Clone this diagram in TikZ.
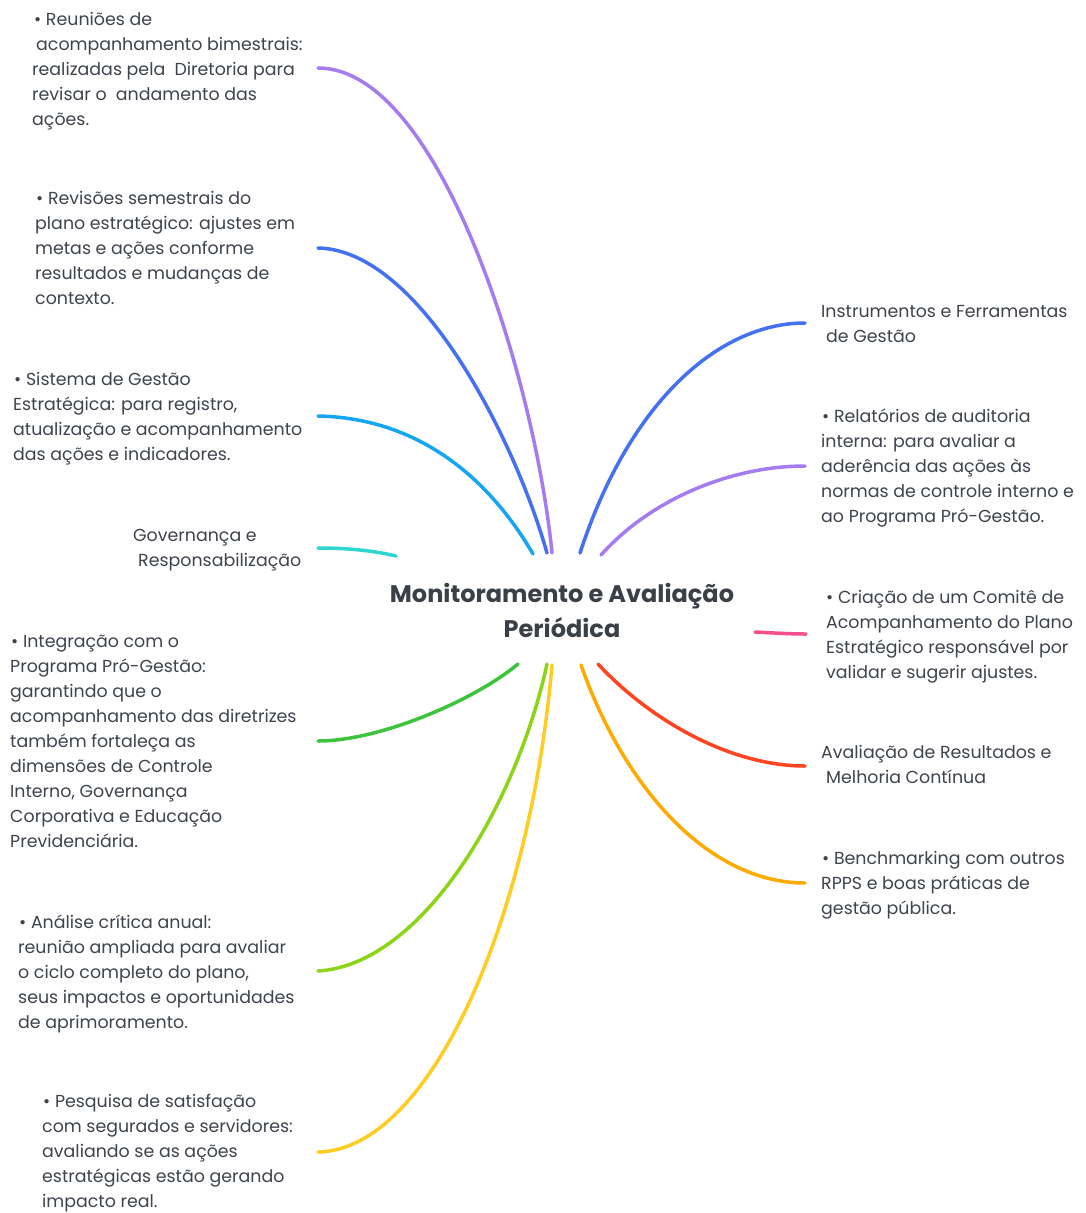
\documentclass[tikz,border=0pt]{standalone}
\usepackage{fontspec}
\setmainfont{Poppins}
\definecolor{txtc}{HTML}{3E434C}
\definecolor{titlec}{HTML}{3A3F48}
\definecolor{cpurple}{HTML}{A47CF0}
\definecolor{cblue}{HTML}{4470F2}
\definecolor{clblue}{HTML}{14A6F5}
\definecolor{ccyan}{HTML}{2ED6D0}
\definecolor{cgreen}{HTML}{3CC43C}
\definecolor{cygreen}{HTML}{8CD416}
\definecolor{cyellow}{HTML}{FFCC22}
\definecolor{corange}{HTML}{FFAA00}
\definecolor{cred}{HTML}{FF4422}
\definecolor{cpink}{HTML}{F5508C}
\begin{document}
\begin{tikzpicture}[x=1pt,y=-1pt,
  txt/.style={anchor=base west, align=left, inner sep=0pt, text=txtc, font=\fontsize{17.4}{25}\selectfont},
  branch/.style={line width=3.5pt, line cap=round}]
\useasboundingbox[fill=white] (0,0) rectangle (1086,1213);

\node[font=\fontsize{24}{35}\selectfont\bfseries, text=titlec, align=center, inner sep=0pt] (root) at (562,610) {Monitoramento e Avaliação\\Periódica};

% left texts (anchored at the baseline of their last line)
\node[txt] (n1) at (32,125) {\hspace{2pt}•\ Reuniões de\\\hspace{4pt}acompanhamento bimestrais:\\realizadas pela\ \ Diretoria para\\revisar o\ \ andamento das\\ações.};
\node[txt] (n2) at (35,304) {\hspace{1pt}•\ Revisões semestrais do\\plano estratégico: ajustes em\\metas e ações conforme\\resultados e mudanças de\\contexto.};
\node[txt] (n3) at (13,460) {\hspace{1pt}•\ Sistema de Gestão\\Estratégica: para registro,\\atualização e acompanhamento\\das ações e indicadores.};
\node[txt] (n4) at (133,566) {Governança e\\\hspace{5pt}Responsabilização};
\node[txt] (n5) at (10,847) {\hspace{1pt}•\ Integração com o\\Programa Pró-Gestão:\\garantindo que o\\acompanhamento das diretrizes\\também fortaleça as\\dimensões de Controle\\Interno, Governança\\Corporativa e Educação\\Previdenciária.};
\node[txt] (n6) at (18,1028) {\hspace{1pt}•\ Análise crítica anual:\\reunião ampliada para avaliar\\o ciclo completo do plano,\\seus impactos e oportunidades\\de aprimoramento.};
\node[txt] (n7) at (42,1207) {\hspace{1pt}•\ Pesquisa de satisfação\\com segurados e servidores:\\avaliando se as ações\\estratégicas estão gerando\\impacto real.};
% right texts
\node[txt] (n8) at (821,342) {Instrumentos e Ferramentas\\\hspace{5pt}de Gestão};
\node[txt] (n9) at (821,522) {\hspace{1pt}•\ Relatórios de auditoria\\interna: para avaliar a\\aderência das ações às\\normas de controle interno e\\ao Programa Pró-Gestão.};
\node[txt] (n10) at (826,678) {•\ Criação de um Comitê de\\Acompanhamento do Plano\\Estratégico responsável por\\validar e sugerir ajustes.};
\node[txt] (n11) at (821,783) {Avaliação de Resultados e\\\hspace{5pt}Melhoria Contínua};
\node[txt] (n12) at (821,914) {\hspace{1pt}•\ Benchmarking com outros\\RPPS e boas práticas de\\gestão pública.};

% connector ends near the root
\coordinate (s1) at (552,553);
\coordinate (s2) at (547,553);
\coordinate (s3) at (533,554);
\coordinate (s4) at (396,556);
\coordinate (s5) at (518,664);
\coordinate (s6) at (547,664);
\coordinate (s7) at (552,665);
\coordinate (s8) at (580,553);
\coordinate (s9) at (601,555);
\coordinate (s10) at (755,632);
\coordinate (s11) at (598,664);
\coordinate (s12) at (581,665);
% connector ends near the texts
\coordinate (e1) at (318,68);
\coordinate (e2) at (318,248);
\coordinate (e3) at (318,416);
\coordinate (e4) at (318,548);
\coordinate (e5) at (318,741);
\coordinate (e6) at (318,971);
\coordinate (e7) at (318,1152);
\coordinate (e8) at (805,323);
\coordinate (e9) at (805,466);
\coordinate (e10) at (806,634);
\coordinate (e11) at (805,766);
\coordinate (e12) at (805,883);

\draw[branch, cpurple] (s1) .. controls (535,380) and (440,68) .. (e1);
\draw[branch, cblue] (s2) .. controls (515,440) and (420,250) .. (e2);
\draw[branch, clblue] (s3) .. controls (490,480) and (420,418) .. (e3);
\draw[branch, ccyan] (s4) .. controls (375,551) and (350,548) .. (e4);
\draw[branch, cgreen] (s5) .. controls (475,700) and (380,741) .. (e5);
\draw[branch, cygreen] (s6) .. controls (515,810) and (420,965) .. (e6);
\draw[branch, cyellow] (s7) .. controls (530,920) and (430,1150) .. (e7);
\draw[branch, cblue] (s8) .. controls (630,400) and (720,323) .. (e8);
\draw[branch, cpurple] (s9) .. controls (650,500) and (730,466) .. (e9);
\draw[branch, cpink] (s10) .. controls (775,633) and (790,634) .. (e10);
\draw[branch, cred] (s11) .. controls (650,720) and (730,766) .. (e11);
\draw[branch, corange] (s12) .. controls (625,790) and (710,883) .. (e12);
\end{tikzpicture}
\end{document}
